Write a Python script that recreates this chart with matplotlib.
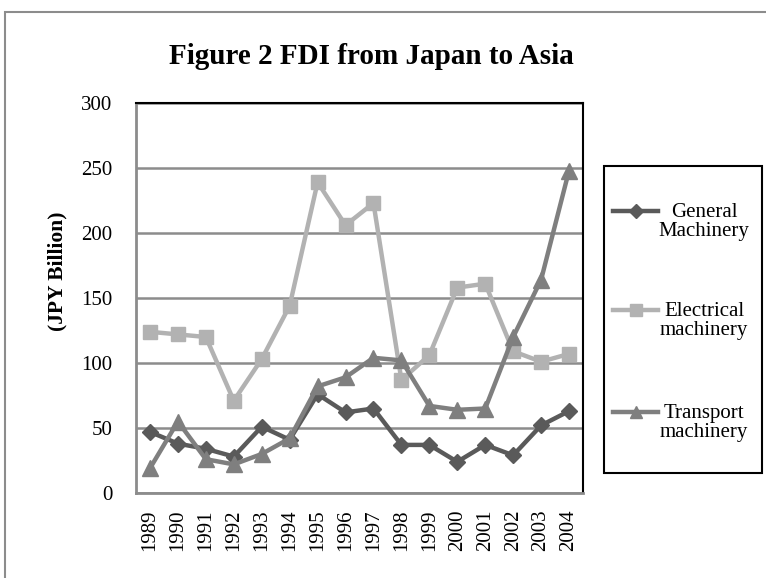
import matplotlib
matplotlib.use("Agg")
import matplotlib.pyplot as plt
from matplotlib.patches import Rectangle
from matplotlib.lines import Line2D

# data (JPY billion)
years = [str(y) for y in range(1989, 2005)]
general = [47, 38, 34, 28, 51, 41, 76, 62, 65, 37, 37, 24, 37, 29, 52, 63]
electrical = [124, 122, 120, 71, 103, 144, 239, 206, 223, 87, 106, 158, 161, 109, 101, 107]
transport = [19, 55, 26, 22, 30, 42, 82, 89, 104, 102, 67, 64, 65, 120, 164, 248]
series_names = ["General\nMachinery", "Electrical\nmachinery", "Transport\nmachinery"]
y_ticks = [0, 50, 100, 150, 200, 250, 300]

plt.rcParams['font.family'] = ['Liberation Serif', 'DejaVu Serif']

W, H = 766, 578
fig = plt.figure(figsize=(W / 100, H / 100), dpi=100)

# outer chart frame (grey, running off the right/bottom edges like the source)
fig.patches.append(Rectangle((5 / W, -0.05), 1.1, 1 - 12 / H + 0.05,
                             transform=fig.transFigure, fill=False,
                             edgecolor="#8c8c8c", lw=1.5))

ax = fig.add_axes([136 / W, 85 / H, 447 / W, 390 / H])
x = range(len(years))

styles = [dict(color="#5a5a5a", marker="D", ms=8),
          dict(color="#b2b2b2", marker="s", ms=10),
          dict(color="#7f7f7f", marker="^", ms=11)]
for vals, st in zip([general, electrical, transport], styles):
    ax.plot(x, vals, lw=3.2, **st)

ax.set_xlim(-0.5, len(years) - 0.5)
ax.set_ylim(0, 300)
ax.set_yticks(y_ticks)
ax.set_xticks(list(x))
ax.set_xticklabels(years, rotation=90, fontsize=15)
ax.tick_params(axis="y", length=0, pad=17, labelsize=15)
ax.tick_params(axis="x", length=0, pad=12)

ax.yaxis.grid(True, color="#8c8c8c", lw=1.8)
ax.set_axisbelow(True)
for side in ["top", "right"]:
    ax.spines[side].set_color("black")
    ax.spines[side].set_linewidth(1.5)
for side in ["left", "bottom"]:
    ax.spines[side].set_color("#8c8c8c")
    ax.spines[side].set_linewidth(2)

fig.text(57 / W, 1 - 271 / H, "(JPY Billion)", rotation=90, ha="center",
         va="center", fontsize=15.5, fontweight="bold")
fig.text(371 / W, 1 - 57 / H, "Figure 2 FDI from Japan to Asia",
         ha="center", va="center", fontsize=21, fontweight="bold")

# legend box, drawn by hand so the key sits level with the first text line
fig.patches.append(Rectangle((604 / W, 1 - 473 / H), 158 / W, 307 / H,
                             transform=fig.transFigure, fill=False,
                             edgecolor="black", lw=1.5))
legend_rows = [211, 310, 412]
for name, st, row in zip(series_names, styles, legend_rows):
    yy = 1 - row / H
    fig.add_artist(Line2D([613 / W, 658 / W], [yy, yy], lw=3.2,
                          color=st["color"], transform=fig.transFigure))
    fig.add_artist(Line2D([635.5 / W], [yy], lw=0, marker=st["marker"],
                          ms=st["ms"] * 0.85, color=st["color"],
                          transform=fig.transFigure))
    fig.text(704 / W, 1 - (row + 11) / H, name, ha="center", va="center",
             multialignment="center", fontsize=15, linespacing=1.05)

fig.savefig("out.png", dpi=100)
